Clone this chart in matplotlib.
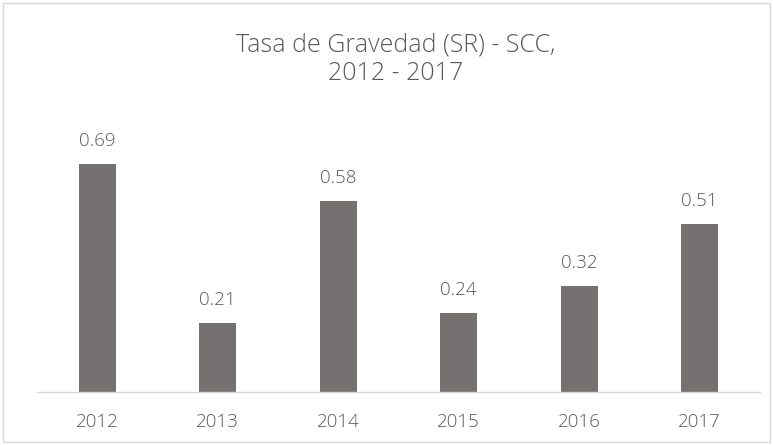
import matplotlib
matplotlib.use("Agg")
import matplotlib.pyplot as plt
from matplotlib.patches import Rectangle
from matplotlib.transforms import offset_copy

years = ["2012", "2013", "2014", "2015", "2016", "2017"]
values = [0.69, 0.21, 0.58, 0.24, 0.32, 0.51]
title_lines = ["Tasa de Gravedad (SR) - SCC,", "2012 - 2017"]

plt.rcParams['font.family'] = ['Open Sans', 'DejaVu Sans']
W, H = 773, 445
fig = plt.figure(figsize=(W/100, H/100), dpi=100)
fig.patches.append(Rectangle((3/W, 3/H), (W-6)/W, (H-6)/H, transform=fig.transFigure,
                             fill=False, edgecolor="#D9D9D9", linewidth=1))
ax = fig.add_axes([37/W, (H-392)/H, (760-37)/W, (392-128)/H])
x = list(range(len(years)))
ax.bar(x, values, width=0.31, color="#767171")
ax.set_xlim(-0.5, len(years)-0.5)
ax.set_ylim(0, 0.8)
txtc = "#595959"
up = offset_copy(ax.transData, fig=fig, x=0, y=18*0.72, units="points")
for xi, v in zip(x, values):
    ax.text(xi, v, f"{v:.2f}", transform=up, ha="center", va="baseline",
            fontsize=13.5, color=txtc, fontweight="light")
down = offset_copy(ax.get_xaxis_transform(), fig=fig, x=0, y=-35*0.72, units="points")
for xi, lab in zip(x, years):
    ax.text(xi, 0, lab, transform=down, ha="center", va="baseline",
            fontsize=13.5, color=txtc, fontweight="light")
ax.set_xticks([])
ax.set_yticks([])
for s in ["top", "right", "left"]:
    ax.spines[s].set_visible(False)
ax.spines["bottom"].set_color("#D9D9D9")
ax.spines["bottom"].set_linewidth(1)
for line, yb in zip(title_lines, [51, 80]):
    fig.text(396/W, 1 - yb/H, line, ha="center", va="baseline", fontsize=18,
             color=txtc, fontweight="light")
fig.savefig("out.png", dpi=100)
